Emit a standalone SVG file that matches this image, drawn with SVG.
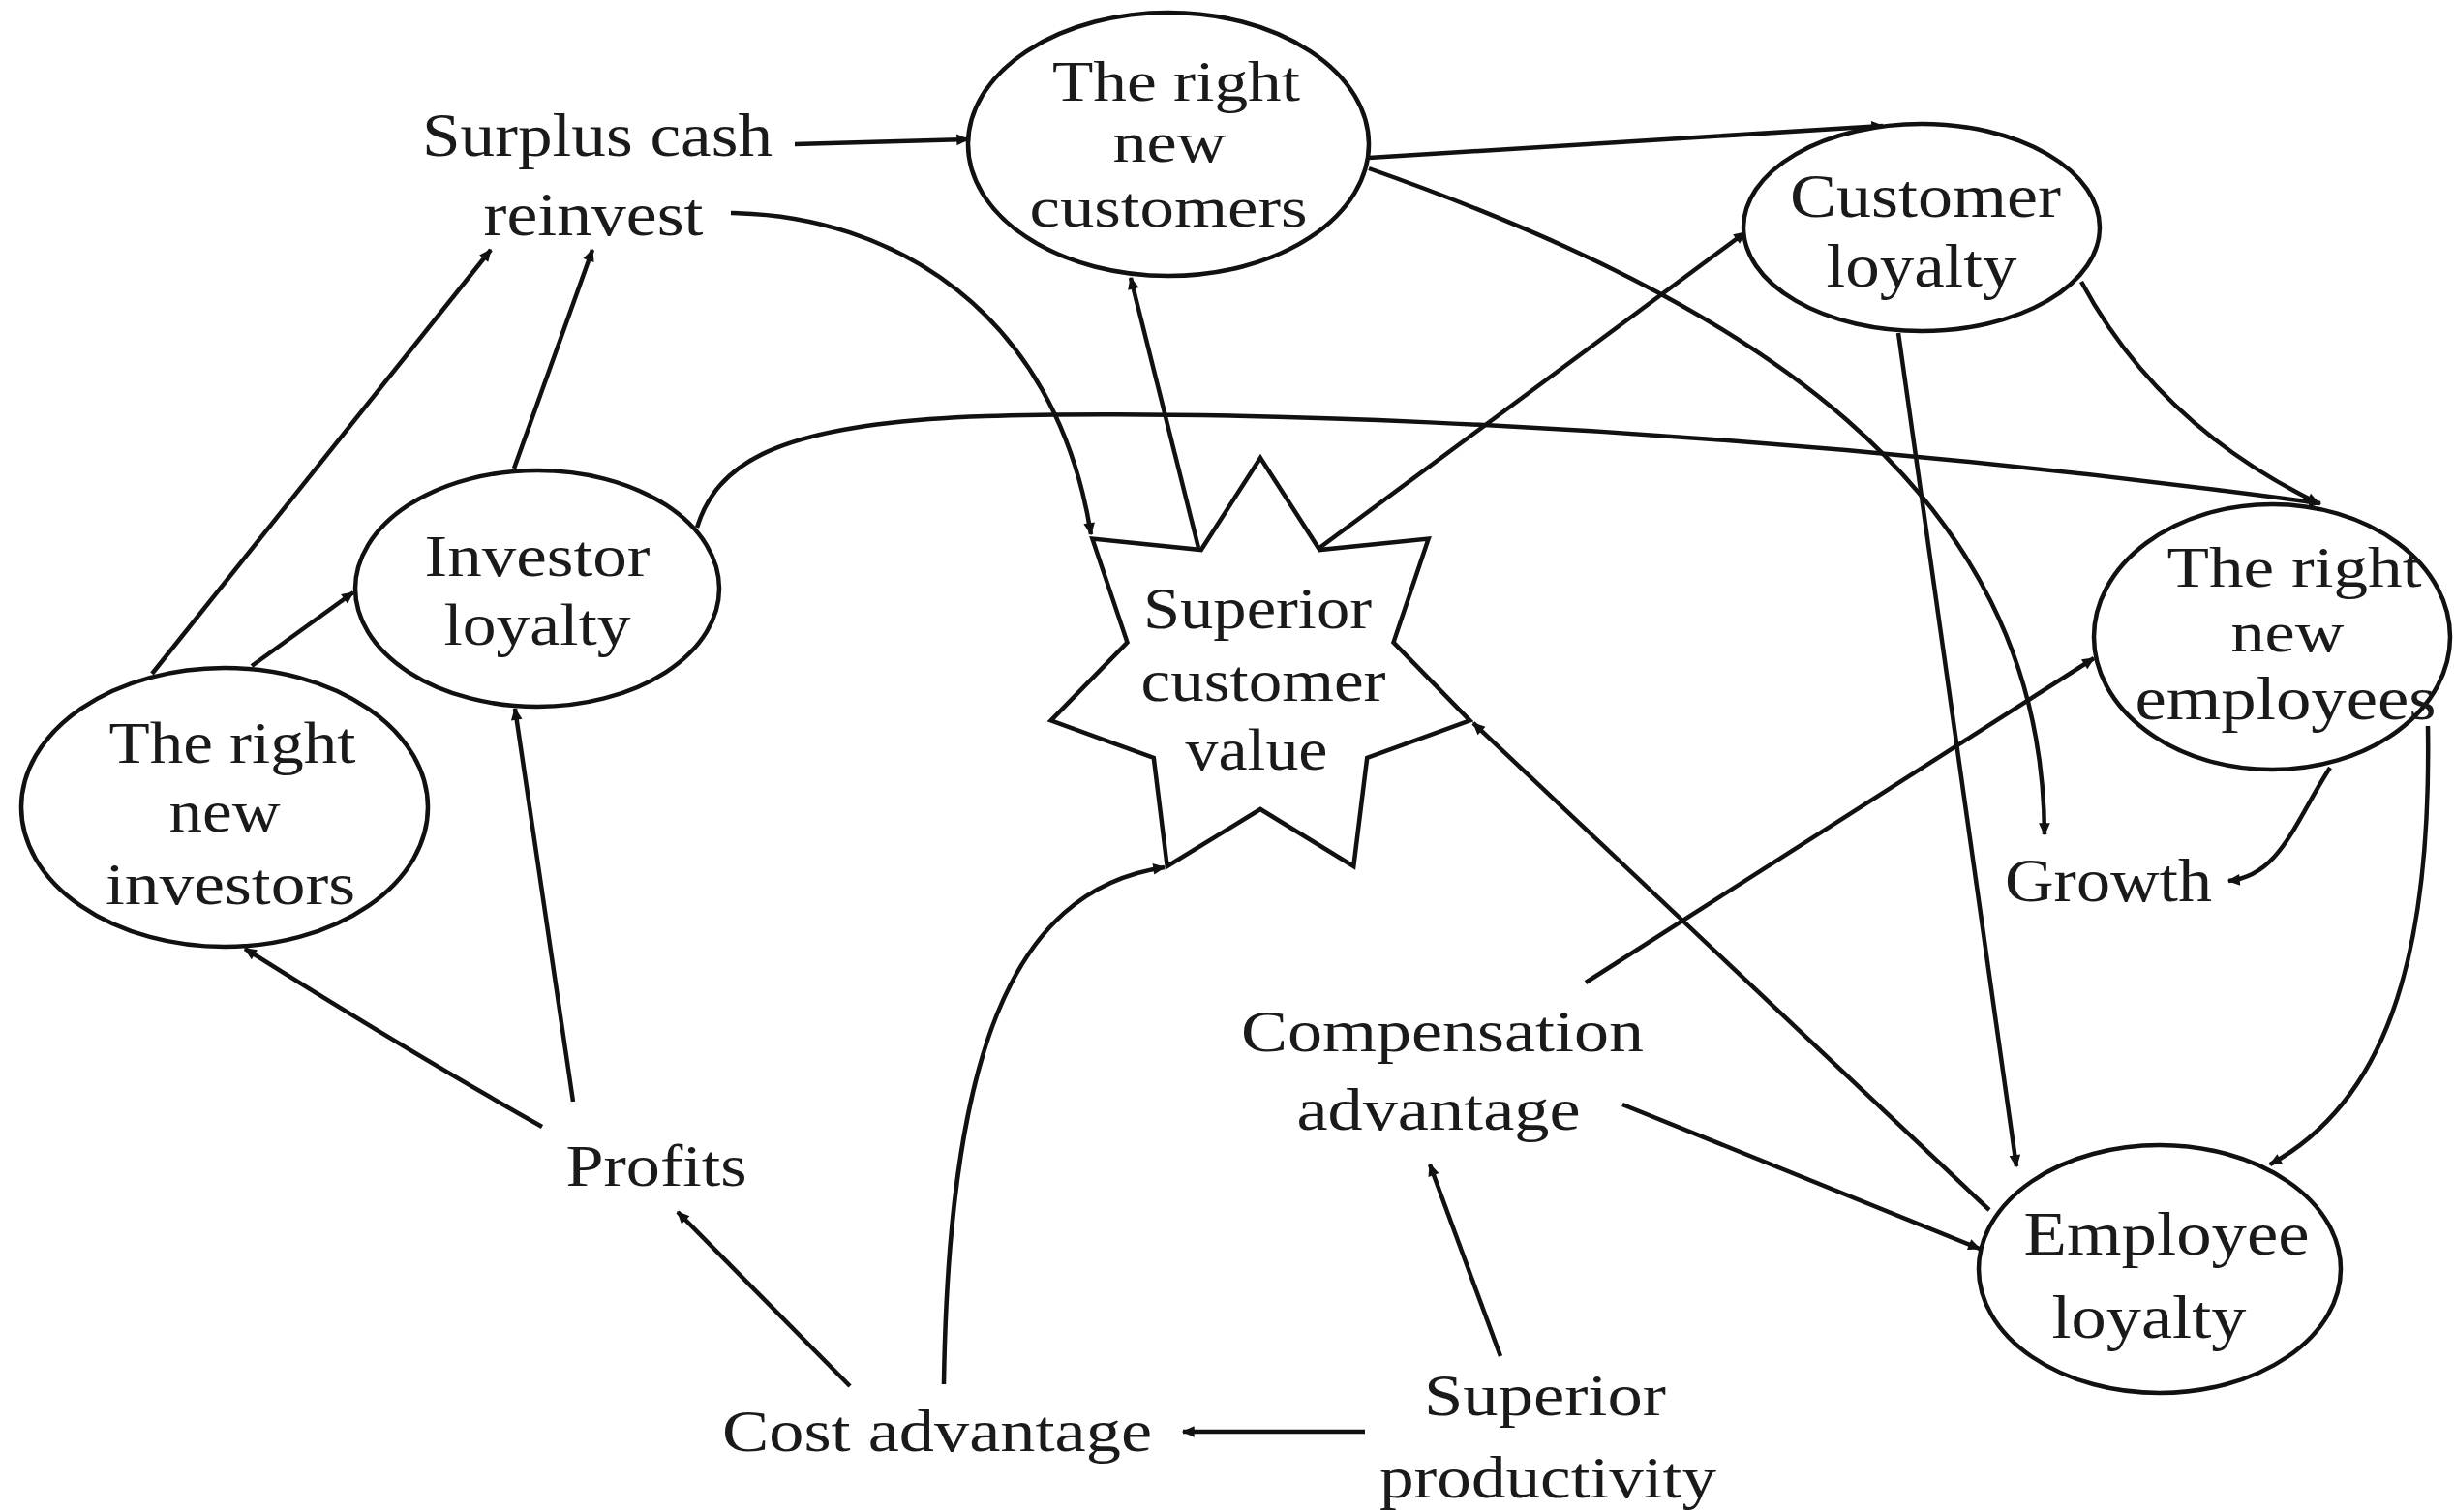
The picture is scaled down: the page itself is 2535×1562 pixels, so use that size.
<svg xmlns="http://www.w3.org/2000/svg" width="2535" height="1562" viewBox="0 0 2535 1562">
<defs>
<style>
.n{fill:#fff;stroke:#111;stroke-width:4.5}
.t{font-family:"Liberation Serif","Times New Roman",serif;fill:#1a1a1a;text-anchor:middle}
.a{font-size:64px}
.b{font-size:62px}
.s{font-size:60px}
.c path{fill:none;stroke:#111;stroke-width:4.5;marker-end:url(#ah)}
</style>
<marker id="ah" viewBox="0 0 10 10" refX="9" refY="5" markerWidth="22" markerHeight="13" markerUnits="userSpaceOnUse" orient="auto">
<path d="M0,0.5 L10,5 L0,9.5 z" fill="#111"/>
</marker>
</defs>
<rect width="2535" height="1562" fill="#fff"/>
<g id="connectors" class="c">
<path d="M821,149 L1000,144"/>
<path d="M755,220 C920,222 1090,320 1127,552"/>
<path d="M1238,566 L1168,287"/>
<path d="M1363,566 L1803,240"/>
<path d="M1414,163 L1945,130"/>
<path d="M1414,174 C1800,310 2110,500 2112,862"/>
<path d="M2150,291 Q2230,440 2395,520"/>
<path d="M1961,344 L2083,1205"/>
<path d="M720,545 C740,480 800,445 960,433 S1700,425 2397,520"/>
<path d="M157,696 L507,258"/>
<path d="M260,688 L365,612"/>
<path d="M531,484 L612,258"/>
<path d="M592,1138 L532,732"/>
<path d="M560,1164 Q420,1085 253,980"/>
<path d="M878,1432 L700,1252"/>
<path d="M975,1430 C980,1100 1040,920 1203,896"/>
<path d="M1410,1479 L1222,1479"/>
<path d="M1550,1401 L1477,1203"/>
<path d="M1676,1141 L2045,1290"/>
<path d="M1638,1015 L2163,680"/>
<path d="M2055,1250 L1522,747"/>
<path d="M2407,793 C2370,850 2355,905 2302,910"/>
<path d="M2508,750 C2512,1000 2460,1140 2345,1203"/>
</g>
<g id="surplus">
<text class="t a" x="617" y="161" textLength="362" lengthAdjust="spacingAndGlyphs">Surplus cash</text>
<text class="t a" x="613" y="243" textLength="227" lengthAdjust="spacingAndGlyphs">reinvest</text>
</g>
<g id="new-customers">
<ellipse class="n" cx="1207" cy="149" rx="207" ry="136"/>
<text class="t s" x="1215" y="104" textLength="256" lengthAdjust="spacingAndGlyphs">The right</text>
<text class="t s" x="1208" y="167" textLength="117" lengthAdjust="spacingAndGlyphs">new</text>
<text class="t s" x="1207" y="234" textLength="287" lengthAdjust="spacingAndGlyphs">customers</text>
</g>
<g id="customer-loyalty">
<ellipse class="n" cx="1985" cy="235" rx="184" ry="107"/>
<text class="t a" x="1989" y="224" textLength="280" lengthAdjust="spacingAndGlyphs">Customer</text>
<text class="t a" x="1985" y="296" textLength="197" lengthAdjust="spacingAndGlyphs">loyalty</text>
</g>
<g id="new-employees">
<ellipse class="n" cx="2347" cy="658" rx="184" ry="137"/>
<text class="t s" x="2370" y="606" textLength="263" lengthAdjust="spacingAndGlyphs">The right</text>
<text class="t s" x="2363" y="673" textLength="117" lengthAdjust="spacingAndGlyphs">new</text>
<text class="t a" x="2361" y="743" textLength="311" lengthAdjust="spacingAndGlyphs">employees</text>
</g>
<g id="employee-loyalty">
<ellipse class="n" cx="2231" cy="1311" rx="187" ry="128"/>
<text class="t a" x="2238" y="1296" textLength="295" lengthAdjust="spacingAndGlyphs">Employee</text>
<text class="t a" x="2220" y="1382" textLength="201" lengthAdjust="spacingAndGlyphs">loyalty</text>
</g>
<g id="investor-loyalty">
<ellipse class="n" cx="555" cy="608" rx="188" ry="122"/>
<text class="t b" x="555" y="595" textLength="233" lengthAdjust="spacingAndGlyphs">Investor</text>
<text class="t b" x="555" y="666" textLength="193" lengthAdjust="spacingAndGlyphs">loyalty</text>
</g>
<g id="new-investors">
<ellipse class="n" cx="232" cy="834" rx="210" ry="144"/>
<text class="t b" x="240" y="788" textLength="255" lengthAdjust="spacingAndGlyphs">The right</text>
<text class="t b" x="232" y="859" textLength="115" lengthAdjust="spacingAndGlyphs">new</text>
<text class="t b" x="238" y="934" textLength="258" lengthAdjust="spacingAndGlyphs">investors</text>
</g>
<g id="superior-customer-value">
<polygon class="n" points="1302,473 1363.2,568 1475.6,556.6 1439.5,663.6 1518.4,744.4 1412.2,782.9 1398.3,895 1302,836 1205.7,895 1191.8,782.9 1085.6,744.4 1164.5,663.6 1128.4,556.6 1240.8,568"/>
<text class="t b" x="1299" y="649" textLength="236" lengthAdjust="spacingAndGlyphs">Superior</text>
<text class="t b" x="1305" y="724" textLength="253" lengthAdjust="spacingAndGlyphs">customer</text>
<text class="t b" x="1298" y="795" textLength="147" lengthAdjust="spacingAndGlyphs">value</text>
</g>
<g id="profits">
<text class="t b" x="678" y="1225" textLength="187" lengthAdjust="spacingAndGlyphs">Profits</text>
</g>
<g id="cost-advantage">
<text class="t b" x="968" y="1499" textLength="444" lengthAdjust="spacingAndGlyphs">Cost advantage</text>
</g>
<g id="superior-productivity">
<text class="t b" x="1596" y="1462" textLength="250" lengthAdjust="spacingAndGlyphs">Superior</text>
<text class="t b" x="1599" y="1547" textLength="348" lengthAdjust="spacingAndGlyphs">productivity</text>
</g>
<g id="compensation-advantage">
<text class="t b" x="1490" y="1086" textLength="416" lengthAdjust="spacingAndGlyphs">Compensation</text>
<text class="t b" x="1486" y="1167" textLength="293" lengthAdjust="spacingAndGlyphs">advantage</text>
</g>
<g id="growth">
<text class="t a" x="2178" y="931" textLength="214" lengthAdjust="spacingAndGlyphs">Growth</text>
</g>
</svg>
